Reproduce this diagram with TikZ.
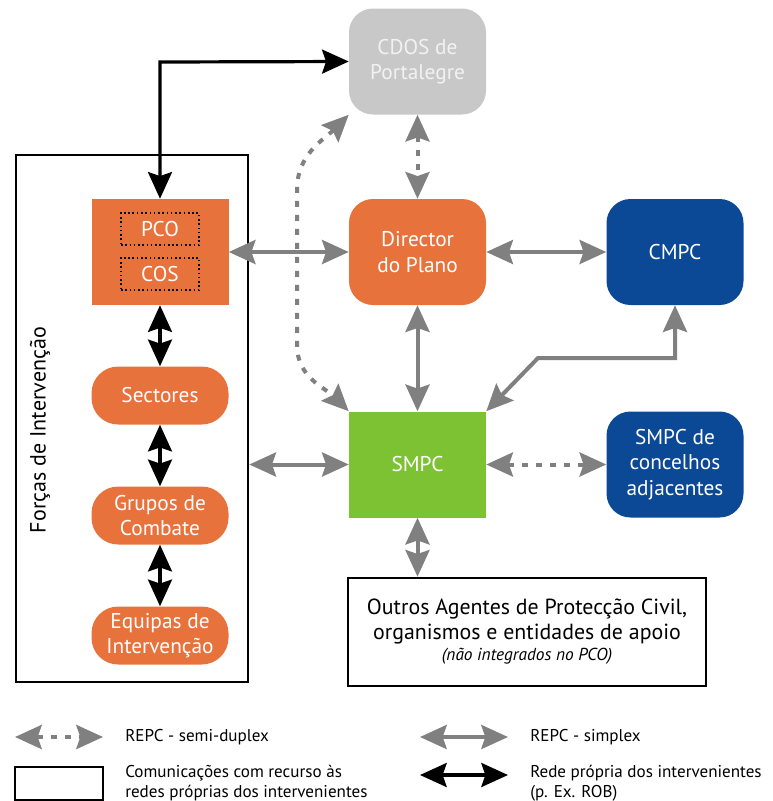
\documentclass[tikz,border=0pt]{standalone}
\usepackage{fontspec}
\setmainfont{PT Sans}
\usetikzlibrary{arrows.meta}

\definecolor{laranja}{RGB}{232,114,60}
\definecolor{azul}{RGB}{11,72,150}
\definecolor{verde}{RGB}{124,194,50}
\definecolor{cinza}{RGB}{200,200,200}
\definecolor{seta}{RGB}{128,128,128}

\tikzset{
  caixa/.style={minimum width=102.75pt, minimum height=79.5pt, inner sep=0pt,
    text=white, align=center, font=\fontsize{16}{19}\selectfont},
  redonda/.style={caixa, rounded corners=18pt},
  capsula/.style={caixa, fill=laranja, minimum height=43.5pt, rounded corners=20pt},
  interna/.style={draw=black, line width=1.2pt, dotted, minimum width=58.5pt,
    minimum height=24pt, inner sep=0pt, text=white, font=\fontsize{16}{19}\selectfont},
  ponta/.tip={Stealth[length=20pt,width=18pt,inset=3pt]},
  simplex/.style={draw=seta, line width=3pt, ponta-ponta},
  semiduplex/.style={simplex, dash pattern=on 4.5pt off 6pt},
  rede/.style={draw=black, line width=2.4pt, ponta-ponta},
  moldura/.style={draw=black, line width=2pt},
  legenda/.style={anchor=west, align=left, inner sep=0pt, font=\fontsize{12.8}{15}\selectfont}
}

\begin{document}
\begin{tikzpicture}[x=0.75pt, y=-0.75pt]
\useasboundingbox (0,0) rectangle (773,801);

% caixas principais
\node[redonda, fill=cinza, text=white!95!black] (cdos) at (417.5,61.5) {CDOS de\\Portalegre};
\node[redonda, fill=laranja] (director) at (417.5,252) {Director\\do Plano};
\node[redonda, fill=azul] (cmpc) at (675,252) {CMPC};
\node[caixa, fill=verde] (smpc) at (417.5,464.5) {SMPC};
\node[redonda, fill=azul] (adjacentes) at (675,464.5) {SMPC de\\concelhos\\adjacentes};

% forcas de intervencao
\node[moldura, minimum width=174pt, minimum height=395.25pt] (forcas) at (132,418.5) {};
\node[rotate=90, font=\fontsize{16.5}{19}\selectfont] (titulo) at (40,430) {Forças de Intervenção};
\node[caixa, fill=laranja] (posto) at (160,252) {};
\node[interna] (pco) at (160,229) {PCO};
\node[interna] (cos) at (160,274) {COS};
\node[capsula] (sectores) at (160,395.5) {Sectores};
\node[capsula] (grupos) at (160,515.5) {Grupos de\\Combate};
\node[capsula] (equipas) at (160,635.5) {Equipas de\\Intervenção};

% outros agentes
\node[moldura, minimum width=268.5pt, minimum height=81pt, align=center, inner sep=0pt,
  font=\fontsize{16.4}{18.75}\selectfont] (outros) at (527,632)
  {Outros Agentes de Protecção Civil,\\organismos e entidades de apoio\\[-3pt]
   {\fontsize{13}{14}\selectfont\itshape (não integrados no PCO)}};

% ligacoes
\coordinate (canto) at (160,62);
\draw[rede] (cdos.west) -- (canto) -- (posto.north);
\draw[simplex] (posto.east) -- (director.west);
\draw[simplex] (director.east) -- (cmpc.west);
\draw[simplex] (director.south) -- (smpc.north);
\draw[semiduplex] (cdos.south) -- (director.north);
\draw[semiduplex] (cdos.south west) to[out=225,in=90] (297,190) -- (297,345) to[out=-90,in=135] (smpc.north west);
\coordinate (dobra1) at (675,358);
\coordinate (dobra2) at (538,358);
\draw[simplex] (cmpc.south) -- (dobra1) -- (dobra2) -- (smpc.north east);
\draw[simplex] (forcas.east |- smpc.west) -- (smpc.west);
\draw[semiduplex] (smpc.east) -- (adjacentes.west);
\draw[simplex] (smpc.south) -- (outros.north -| smpc.south);
\draw[rede] (posto.south) -- (sectores.north);
\draw[rede] (sectores.south) -- (grupos.north);
\draw[rede] (grupos.south) -- (equipas.north);

% legenda
\coordinate (l1a) at (15,737); \coordinate (l1b) at (103,737);
\coordinate (l2a) at (420,737); \coordinate (l2b) at (508,737);
\coordinate (l3a) at (420,775); \coordinate (l3b) at (508,775);
\draw[semiduplex] (l1a) -- (l1b);
\draw[simplex] (l2a) -- (l2b);
\draw[rede] (l3a) -- (l3b);
\node[moldura, minimum width=66pt, minimum height=25pt] (caixaleg) at (59,783.5) {};
\node[legenda] (t1) at (125,737) {REPC - semi-duplex};
\node[legenda] (t2) at (530,737) {REPC - simplex};
\node[legenda] (t3) at (125,783) {Comunicações com recurso às\\redes próprias dos intervenientes};
\node[legenda] (t4) at (530,783) {Rede própria dos intervenientes\\(p. Ex. ROB)};
\end{tikzpicture}
\end{document}
